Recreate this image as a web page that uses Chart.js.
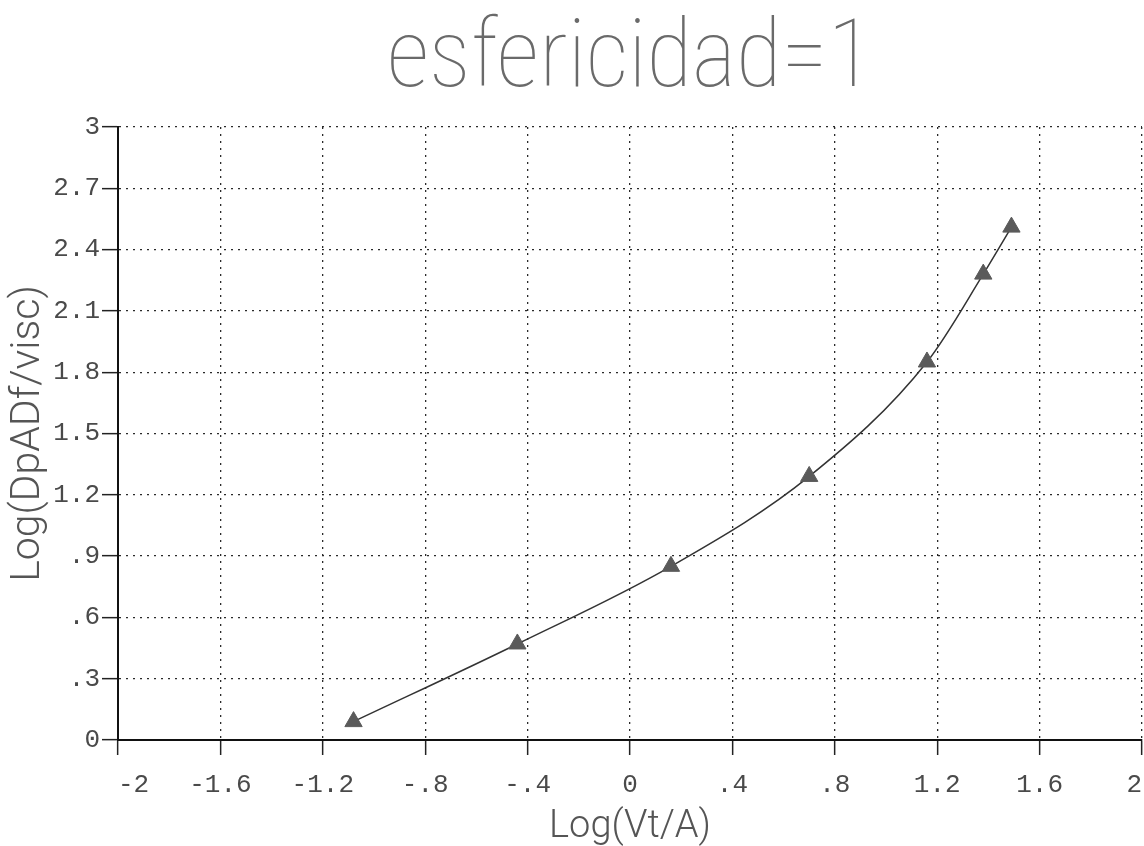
<!DOCTYPE html>
<html>
<head>
<meta charset="utf-8">
<script src="https://cdn.jsdelivr.net/npm/chart.js@4.4.1/dist/chart.umd.min.js"></script>
<style>
  html, body { margin: 0; padding: 0; background: #ffffff; }
  canvas { display: block; }
</style>
</head>
<body>
<canvas id="c" width="1144" height="846"></canvas>
<script>
// ---- data ----
const xValues = [-1.08, -0.44, 0.16, 0.70, 1.16, 1.38, 1.49];   // Log(Vt/A)
const yValues = [0.09, 0.47, 0.85, 1.29, 1.85, 2.28, 2.51];     // Log(DpADf/visc)

const xTickValues = [-2, -1.6, -1.2, -0.8, -0.4, 0, 0.4, 0.8, 1.2, 1.6, 2];
const xTickLabels = ["  -2", "-1.6", "-1.2", "-.8", "-.4", "0", ".4", ".8", "1.2", "1.6", "2 "];
const yTickValues = [0, 0.3, 0.6, 0.9, 1.2, 1.5, 1.8, 2.1, 2.4, 2.7, 3];
const yTickLabels = ["0", ".3", ".6", ".9", "1.2", "1.5", "1.8", "2.1", "2.4", "2.7", "3"];

const chartTitle = "esfericidad=1";
const xTitle = "Log(Vt/A)";
const yTitle = "Log(DpADf/visc)";

// ---- chart ----
const points = xValues.map((x, i) => ({ x: x, y: yValues[i] }));

const tickFont = { family: "'Liberation Mono', 'DejaVu Sans Mono', monospace", size: 26 };
const xTitleFont = { family: "Roboto, sans-serif", size: 38, weight: 300, lineHeight: 1 };
const yTitleFont = { family: "Roboto, sans-serif", size: 41, weight: 300, lineHeight: 1 };

new Chart(document.getElementById('c'), {
  type: 'scatter',
  data: {
    datasets: [{
      data: points,
      showLine: true,
      borderColor: '#333333',
      borderWidth: 1.5,
      cubicInterpolationMode: 'monotone',
      pointStyle: 'triangle',
      pointRadius: 10,
      pointBackgroundColor: '#5a5a5a',
      pointBorderColor: '#5a5a5a',
      pointBorderWidth: 1
    }]
  },
  options: {
    responsive: false,
    animation: false,
    devicePixelRatio: 1,
    layout: { autoPadding: false, padding: { top: 0, right: 2, bottom: 0, left: 0 } },
    plugins: {
      legend: { display: false },
      tooltip: { enabled: false },
      title: {
        display: true,
        text: chartTitle,
        fullSize: false,
        color: '#6a6a6a',
        font: { family: "'Roboto Condensed', Roboto, sans-serif", size: 94, weight: 100, lineHeight: 1 },
        padding: { top: 15, bottom: 18 }
      }
    },
    scales: {
      x: {
        type: 'linear',
        min: -2,
        max: 2,
        afterBuildTicks: (s) => { s.ticks = xTickValues.map(v => ({ value: v })); },
        afterFit: (s) => { s.height = 106; s.paddingLeft = 0; s.paddingRight = 0; },
        ticks: {
          color: '#4a4a4a',
          font: tickFont,
          padding: 15,
          maxRotation: 0,
          autoSkip: false,
          callback: (v, i) => xTickLabels[i]
        },
        grid: {
          color: '#2a2a2a',
          lineWidth: 1.3,
          tickLength: 15,
          tickColor: '#222222',
          tickWidth: 1.5
        },
        border: { display: true, color: '#111111', width: 2, dash: [2, 5] },
        title: {
          display: true,
          text: xTitle,
          color: '#555555',
          font: xTitleFont,
          padding: { top: 0, bottom: 0 }
        }
      },
      y: {
        type: 'linear',
        min: 0,
        max: 3,
        afterBuildTicks: (s) => { s.ticks = yTickValues.map(v => ({ value: v })); },
        afterFit: (s) => { s.width = 118; },
        ticks: {
          color: '#4a4a4a',
          font: tickFont,
          padding: 2,
          autoSkip: false,
          callback: (v, i) => yTickLabels[i]
        },
        grid: {
          color: '#2a2a2a',
          lineWidth: 1.3,
          tickLength: 16,
          tickColor: '#222222',
          tickWidth: 1.5
        },
        border: { display: true, color: '#111111', width: 2, dash: [2, 5] },
        title: {
          display: true,
          text: yTitle,
          color: '#555555',
          font: yTitleFont,
          padding: { top: 8, bottom: 0 }
        }
      }
    }
  }
});
</script>
</body>
</html>
